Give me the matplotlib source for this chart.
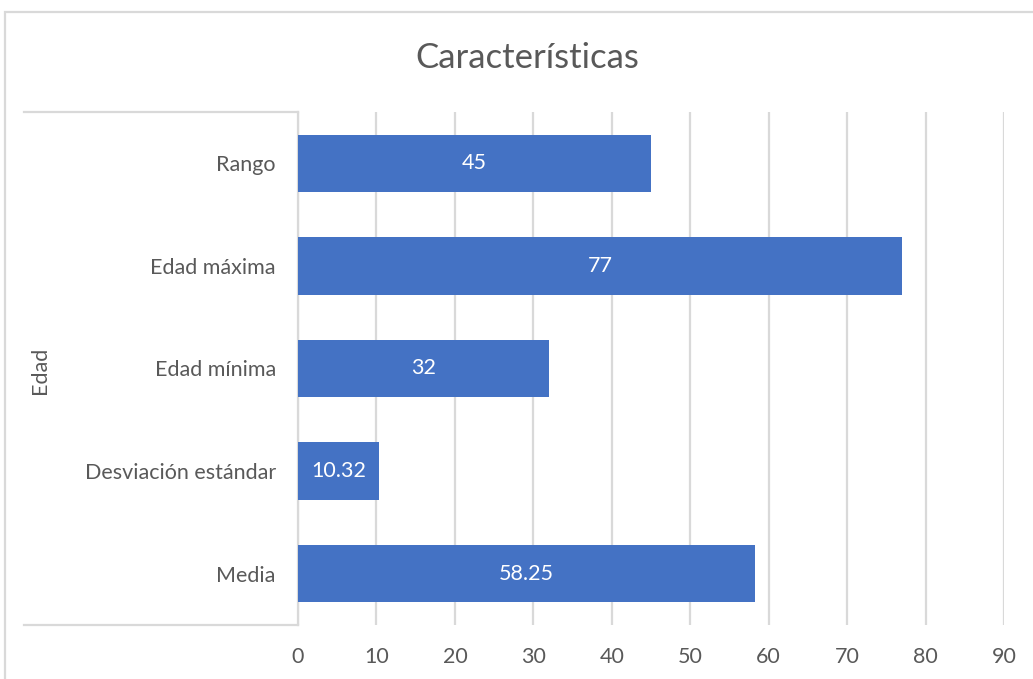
import matplotlib
matplotlib.use("Agg")
import matplotlib.pyplot as plt
from matplotlib.lines import Line2D
from matplotlib.patches import Rectangle

categories = ["Media", "Desviación estándar", "Edad mínima", "Edad máxima", "Rango"]
values = [58.25, 10.32, 32, 77, 45]
value_labels = ["58.25", "10.32", "32", "77", "45"]
xticks = [0, 10, 20, 30, 40, 50, 60, 70, 80, 90]
title = "Características"
group_label = "Edad"

FONT = ["Lato", "DejaVu Sans"]
TXT = "#595959"
GRID = "#d9d9d9"
BAR = "#4472C4"

plt.rcParams['font.family'] = FONT

W, H = 1033, 679
fig = plt.figure(figsize=(W / 100, H / 100), dpi=100)

def fx(px):
    return px / W

def fy(py):
    return 1 - py / H

ax = fig.add_axes([fx(298), fy(625), fx(1004) - fx(298), fy(112) - fy(625)])

y = list(range(len(categories)))
ax.barh(y, values, height=0.56, color=BAR, zorder=3)
for yi, v, lab in zip(y, values, value_labels):
    ax.text(v / 2, yi, lab, ha="center", va="center", color="white", fontsize=15.5, zorder=4)

ax.set_xlim(0, 90)
ax.set_ylim(-0.5, len(categories) - 0.5)
ax.set_xticks(xticks)
ax.set_xticklabels([str(t) for t in xticks])
ax.set_yticks(y)
ax.set_yticklabels(categories)
ax.tick_params(axis="both", length=0, colors=TXT, labelsize=15.5)
ax.tick_params(axis="x", pad=16)
ax.tick_params(axis="y", pad=16)
ax.xaxis.grid(True, color=GRID, linewidth=1.6, zorder=0)
for s in ["top", "right", "bottom"]:
    ax.spines[s].set_visible(False)
ax.spines["left"].set_color(GRID)
ax.spines["left"].set_linewidth(1.6)

# outer chart frame
fig.add_artist(Rectangle((fx(5), fy(700)), fx(1100) - fx(5), fy(12) - fy(700),
                         transform=fig.transFigure, fill=False, edgecolor=GRID, linewidth=1.6))

# multi-level category bracket
for py in (112, 625):
    fig.add_artist(Line2D([fx(24), fx(298)], [fy(py), fy(py)], transform=fig.transFigure,
                          color=GRID, linewidth=1.6))

fig.text(fx(40), fy(370), group_label, rotation=90, ha="center", va="center",
         color=TXT, fontsize=15.5)
fig.text(fx(527), fy(58), title, ha="center", va="center", color=TXT, fontsize=25)

fig.savefig("out.png", dpi=100)
